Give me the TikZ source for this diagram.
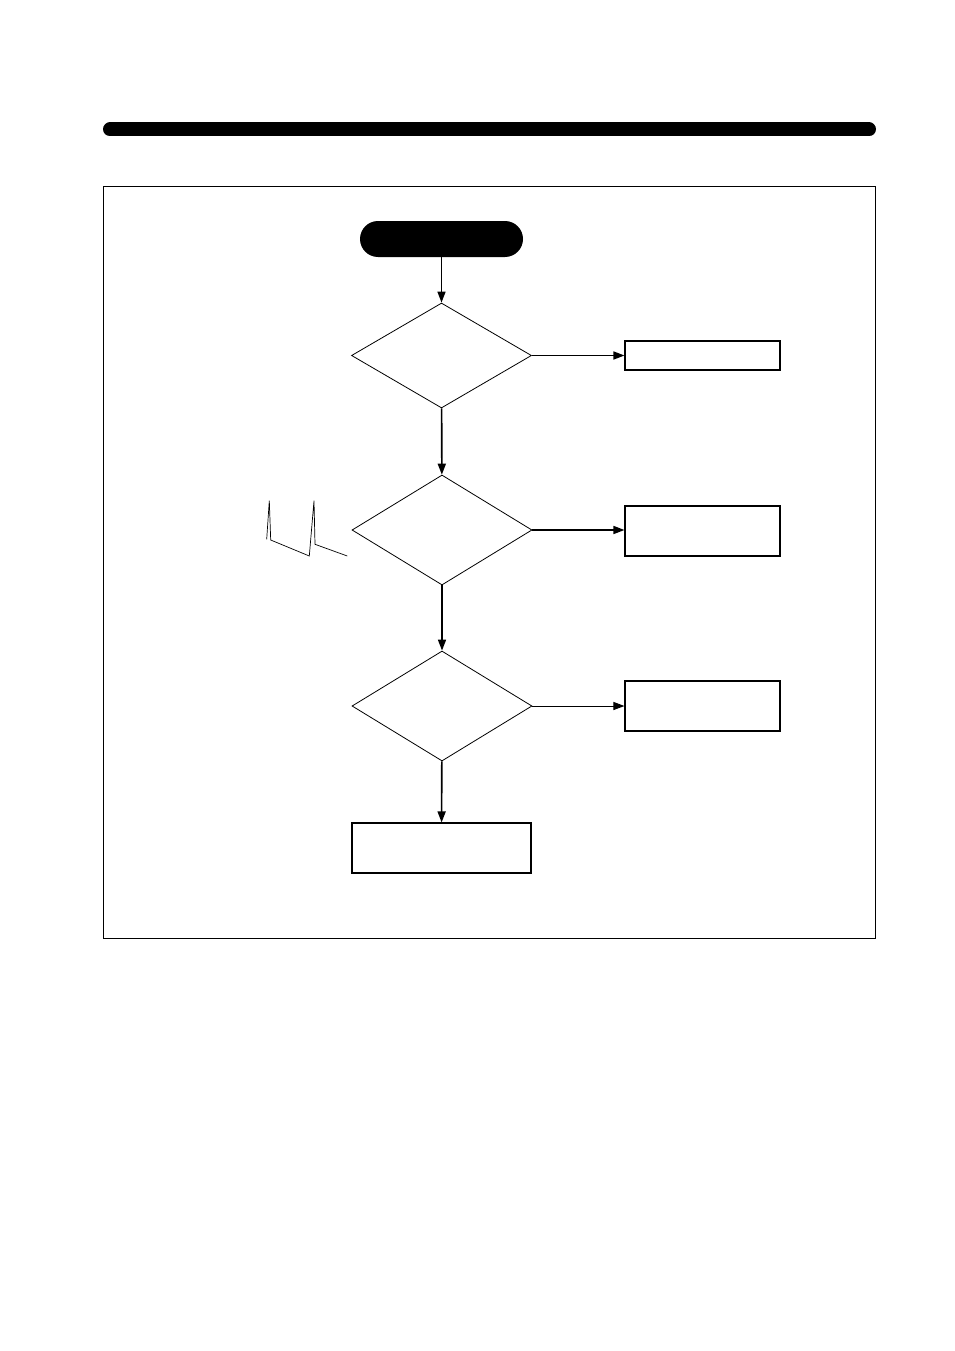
\documentclass[tikz,border=0pt]{standalone}
\usepackage{amsmath}
\usepackage{xcolor}
\usetikzlibrary{shapes.geometric,arrows.meta}

\begin{document}
\begin{tikzpicture}[x=1pt, y=-1pt, >={Triangle[length=11pt, width=8pt]},
  box/.style={rectangle, draw, line width=1.1pt, inner sep=0pt},
  test/.style={diamond, draw, line width=0.8pt, inner sep=0pt, minimum width=180pt},
  flow/.style={->, line width=1.6pt}]
\useasboundingbox (0,0) rectangle (954,1351);
\draw[line width=14pt, line cap=round] (110,129.5) -- (869,129.5);
\draw[line width=1pt] (103.5,186.5) rectangle (875.5,938);
\node[rectangle, fill=black, rounded corners=18pt, minimum width=163pt, minimum height=36pt, inner sep=0pt] (start) at (441.5,239) {};
\node[test, minimum height=105pt] (t1) at (441.5,355.5) {};
\node[test, minimum height=110pt] (t2) at (442,530) {};
\node[test, minimum height=110pt] (t3) at (442,706) {};
\node[box, minimum width=155pt, minimum height=29pt] (r1) at (702.5,355.5) {};
\node[box, minimum width=155pt, minimum height=50pt] (r2) at (702.5,531) {};
\node[box, minimum width=155pt, minimum height=50pt] (r3) at (702.5,706) {};
\node[box, minimum width=179pt, minimum height=50pt] (end) at (441.5,848) {};
\draw[flow] (start) -- (t1);
\draw[flow] (t1) -- (t2);
\draw[flow] (t2) -- (t3);
\draw[flow] (t3) -- (end);
\draw[flow] (t1) -- (t1 -| r1.west);
\draw[flow] (t2) -- (t2 -| r2.west);
\draw[->, line width=1pt] (t3) -- (t3 -| r3.west);
\draw[line width=0.7pt] (266.7,539.3) -- (269.3,500.7) -- (270.7,540) -- (309.3,556) -- (314,500.7) -- (315,544.3) -- (347.3,556);
\end{tikzpicture}
\end{document}
